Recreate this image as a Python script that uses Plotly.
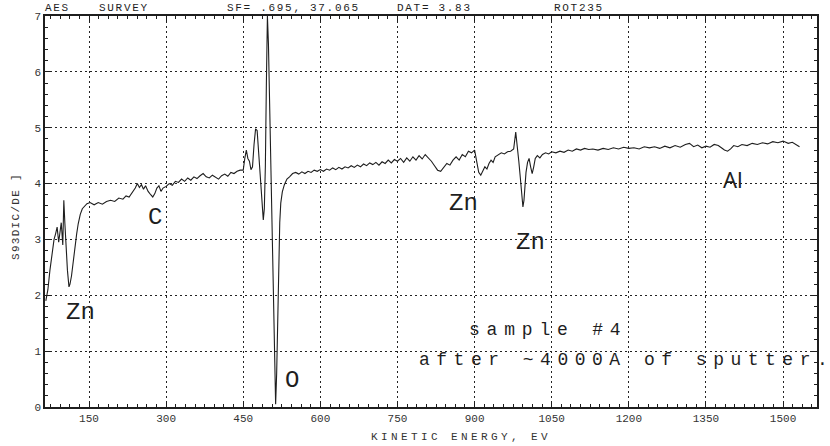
import plotly.graph_objects as go

# Kinetic energy (eV) and dN(E)/dE signal, read from the scanned survey
energy_ev = [66, 70, 74, 78, 82, 85, 88, 91, 94, 96, 99, 101, 103, 105, 108, 111, 113, 116, 119, 123,
             126, 129, 133, 137, 141, 146,
             152, 160, 168, 176, 184, 192, 200, 208, 216, 222, 228, 234, 240, 244, 248, 252, 256, 260,
             265, 270, 274, 278, 282, 286, 290, 294, 300, 306, 312, 318, 324, 330, 336, 342, 348, 354,
             360, 366, 372, 378, 384, 390, 396, 402, 408, 414, 420, 426, 432, 438, 444, 450,
             453, 456, 459, 462, 465, 468, 471, 474, 477, 480, 483, 486, 489, 491, 493, 495, 497, 499,
             501, 503, 505, 507, 509, 511, 513, 515, 517, 519, 521, 523, 526, 530, 535, 540, 546, 552,
             558, 564, 570, 576,
             582, 588, 594, 600, 606, 612, 618, 624, 630, 636, 642, 648, 654, 660, 666, 672, 678, 684,
             690, 696, 702, 708, 714, 720, 726, 732, 738, 744, 750, 756, 762, 768, 774, 780, 786, 792,
             798, 804, 810, 816, 822, 828, 834, 840, 846, 852, 858, 864, 870, 876, 882, 888, 894, 900,
             904, 908, 912, 916, 920, 924, 928, 932, 936, 940, 946, 952, 958, 964, 970, 976, 980, 983,
             986, 989, 992, 994, 996, 998, 1000, 1003, 1006, 1009, 1012, 1015, 1018, 1022, 1027, 1032,
             1038, 1044, 1050, 1058, 1066, 1074, 1082, 1090, 1098, 1106, 1114, 1122, 1130, 1140, 1150,
             1160, 1170, 1180, 1190, 1200, 1210, 1220, 1230, 1240, 1250, 1260, 1270, 1280, 1290, 1300,
             1310, 1318, 1326, 1334, 1342, 1350, 1358, 1366, 1374, 1380, 1386, 1392, 1398, 1404, 1412,
             1420, 1430, 1440, 1450, 1460, 1470, 1480, 1490, 1500, 1510, 1518, 1526, 1532]

signal = [1.90, 2.10, 2.45, 2.75, 3.00, 3.10, 3.22, 2.95, 3.15, 3.30, 2.90, 3.70, 3.30, 2.90, 2.45, 2.15,
          2.20, 2.35, 2.60, 2.85, 3.10, 3.28, 3.45, 3.55, 3.60, 3.64,
          3.66, 3.62, 3.66, 3.63, 3.68, 3.70, 3.68, 3.74, 3.72, 3.78, 3.76, 3.84, 3.92, 4.00, 3.93,
          3.98, 3.90, 3.96, 3.86, 3.80, 3.76, 3.82, 3.92, 3.96, 3.86, 3.92, 3.95, 4.00, 3.97, 4.04,
          4.02, 4.08, 4.04, 4.10, 4.06, 4.12, 4.09, 4.14, 4.18, 4.12, 4.10, 4.15, 4.12, 4.08, 4.14,
          4.17, 4.13, 4.20, 4.18, 4.22, 4.24, 4.24,
          4.45, 4.60, 4.45, 4.40, 4.25, 4.30, 4.70, 4.98, 4.95, 4.55, 4.05, 3.60, 3.35, 3.55, 4.30,
          5.80, 7.00, 6.50, 5.60, 4.60, 3.60, 2.80, 1.80, 0.70, 0.05, 0.60, 1.60, 2.60, 3.30, 3.65,
          3.85, 3.98, 4.08, 4.12, 4.18, 4.20, 4.17, 4.21, 4.18, 4.22,
          4.20, 4.24, 4.22, 4.25, 4.22, 4.26, 4.24, 4.28, 4.25, 4.29, 4.26, 4.30, 4.28, 4.32, 4.29,
          4.33, 4.30, 4.35, 4.32, 4.37, 4.34, 4.38, 4.33, 4.39, 4.36, 4.42, 4.37, 4.43, 4.40, 4.45,
          4.38, 4.46, 4.40, 4.48, 4.42, 4.50, 4.44, 4.52, 4.46, 4.40, 4.32, 4.24, 4.22, 4.30, 4.36,
          4.33, 4.42, 4.48, 4.42, 4.52, 4.48, 4.58, 4.55, 4.60,
          4.40, 4.20, 4.15, 4.24, 4.30, 4.26, 4.36, 4.42, 4.38, 4.48, 4.52, 4.55, 4.53, 4.57, 4.58,
          4.62, 4.92, 4.70, 4.40, 4.10, 3.75, 3.58, 3.70, 4.00, 4.20, 4.38, 4.45, 4.30, 4.18, 4.30,
          4.45, 4.50, 4.46, 4.52, 4.55, 4.53, 4.57, 4.55, 4.58, 4.56, 4.60, 4.58, 4.62, 4.60, 4.63,
          4.61, 4.62, 4.60, 4.63, 4.61, 4.64, 4.62, 4.65, 4.63, 4.64, 4.62, 4.66, 4.64, 4.66, 4.63,
          4.67, 4.64, 4.68, 4.65, 4.70, 4.72, 4.66, 4.69, 4.64, 4.67, 4.65, 4.70, 4.68, 4.64, 4.60,
          4.58, 4.62, 4.68, 4.66, 4.70, 4.68, 4.72, 4.70, 4.73, 4.71, 4.75, 4.73, 4.76, 4.72, 4.74,
          4.70, 4.66]

x_tick_labels = [150, 300, 450, 600, 750, 900, 1050, 1200, 1350, 1500]
y_tick_labels = [0, 1, 2, 3, 4, 5, 6, 7]

peak_labels = ["Zn", "C", "O", "Zn", "Zn"]
peak_label_x = [134, 278, 545, 878, 1008]
peak_label_y = [1.70, 3.40, 0.47, 3.65, 2.95]

header_texts = ["AES", "SURVEY", "SF= .695, 37.065", "DAT= 3.83", "ROT235"]
header_px = [43, 97, 225, 395, 552]

note_lines = ["sample #4", "after ~4000A of sputter", "."]

MONO = "Liberation Mono, DejaVu Sans Mono, monospace"
INK = "#1e1e1e"

L, R, T, B = 45, 13, 16, 39
W, H = 830, 446
PW, PH = W - L - R, H - T - B


def px_to_paper_x(px):
    return (px - L) / PW


def px_to_paper_y(py):
    return (H - B - py) / PH


def spaced(text, sp):
    return f'<span style="letter-spacing:{sp}px">{text}</span>'


fig = go.Figure()
fig.add_trace(go.Scatter(x=energy_ev, y=signal, mode="lines",
                         line=dict(color=INK, width=1.1), showlegend=False,
                         hoverinfo="skip"))

annotations = []
for t, xx, yy in zip(peak_labels, peak_label_x, peak_label_y):
    annotations.append(dict(x=xx, y=yy, xref="x", yref="y", text=t, showarrow=False,
                            font=dict(family=MONO, size=24, color=INK)))
annotations.append(dict(x=1403, y=4.08, xref="x", yref="y", text="Al", showarrow=False,
                        font=dict(family="Noto Sans, sans-serif", size=22, color=INK)))

annotations.append(dict(x=px_to_paper_x(467), y=px_to_paper_y(342), xref="paper", yref="paper",
                        text=spaced(note_lines[0], 6.8),
                        showarrow=False, xanchor="left",
                        font=dict(family=MONO, size=18, color=INK)))
annotations.append(dict(x=px_to_paper_x(417), y=px_to_paper_y(372), xref="paper", yref="paper",
                        text=spaced(note_lines[1], 6.5) + note_lines[2],
                        showarrow=False, xanchor="left",
                        font=dict(family=MONO, size=18, color=INK)))

for t, px in zip(header_texts, header_px):
    annotations.append(dict(x=px_to_paper_x(px), y=1.0, xref="paper", yref="paper",
                            text=spaced(t, 1.7), showarrow=False, xanchor="left",
                            yanchor="bottom", font=dict(family=MONO, size=11, color=INK)))

annotations.append(dict(x=px_to_paper_x(461), y=px_to_paper_y(445), xref="paper", yref="paper",
                        text=spaced("KINETIC ENERGY, EV", 3.4), showarrow=False,
                        font=dict(family=MONO, size=11, color="#333")))
annotations.append(dict(x=px_to_paper_x(8), y=px_to_paper_y(217), xref="paper", yref="paper",
                        text=spaced("S93DIC/DE ]", 1.3), showarrow=False, textangle=-90,
                        font=dict(family=MONO, size=11, color="#333")))

axis_common = dict(showline=True, linecolor=INK, linewidth=1.5, mirror="allticks",
                   ticks="inside", ticklen=6, tickwidth=1, tickcolor=INK,
                   showgrid=True, gridcolor="#222", gridwidth=1, griddash="2px,3px",
                   zeroline=False, automargin=False,
                   tickfont=dict(family=MONO, size=11, color="#333"))

fig.update_xaxes(range=[64.4, 1566], tickmode="array", tickvals=x_tick_labels,
                 ticktext=[str(v) for v in x_tick_labels],
                 minor=dict(dtick=18.75, tick0=0, ticks="inside", ticklen=3, tickcolor=INK,
                            showgrid=False),
                 **axis_common)
fig.update_yaxes(range=[0, 7], tickmode="array", tickvals=y_tick_labels,
                 ticktext=[str(v) for v in y_tick_labels],
                 minor=dict(dtick=0.2, tick0=0, ticks="inside", ticklen=3, tickcolor=INK,
                            showgrid=False),
                 **axis_common)

fig.update_layout(width=W, height=H, margin=dict(l=L, r=R, t=T, b=B),
                  paper_bgcolor="white", plot_bgcolor="white",
                  annotations=annotations, showlegend=False)

fig.write_html("out.html", config={"displayModeBar": False},
               post_script="document.body.style.margin='0px';document.body.style.padding='0px';")
